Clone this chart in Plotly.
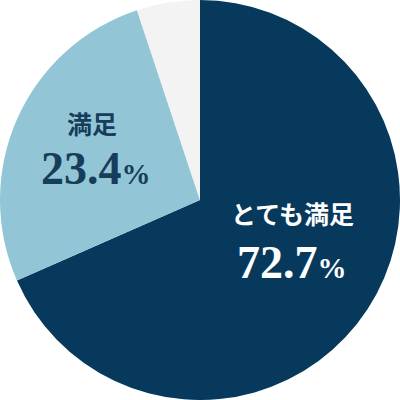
import plotly.graph_objects as go

# slice shares as drawn in the picture (clockwise from 12 o'clock)
categories = ['とても満足', '満足', 'その他']
shares = [68.4, 26.5, 5.1]
colors = ['#07395c', '#92c6d6', '#f3f3f3']

# label texts printed on the chart
label_names = ['とても満足', '満足']
label_values = ['72.7', '23.4']
label_colors = ['#ffffff', '#173d5b']

fig = go.Figure()
fig.add_trace(go.Pie(labels=categories, values=shares,
                     sort=False, direction='clockwise', rotation=0,
                     marker=dict(colors=colors, line=dict(width=0)),
                     textinfo='none', hoverinfo='label+percent',
                     showlegend=False,
                     domain=dict(x=[0, 1], y=[0, 1])))

serif = 'Liberation Serif, Noto Sans CJK JP, serif'
# paper positions: (x name, y name, x value, y value)
spots = [(0.73, 0.462, 0.73, 0.345), (0.23, 0.687, 0.24, 0.578)]
for name, val, col, (nx, ny, vx, vy) in zip(label_names, label_values, label_colors, spots):
    fig.add_annotation(x=nx, y=ny, xref='paper', yref='paper',
                       xanchor='center', yanchor='middle',
                       text='<b>' + name + '</b>', showarrow=False,
                       font=dict(family=serif, size=25, color=col))
    fig.add_annotation(x=vx, y=vy, xref='paper', yref='paper',
                       xanchor='center', yanchor='middle',
                       text='<b>' + val + '<span style="font-size:29px">%</span></b>',
                       showarrow=False,
                       font=dict(family=serif, size=46, color=col))

fig.update_layout(width=400, height=400,
                  margin=dict(l=0, r=0, t=0, b=0),
                  paper_bgcolor='white', plot_bgcolor='white')

fig.write_html('out.html', config={'displayModeBar': False},
               post_script="document.body.style.margin='0';")
